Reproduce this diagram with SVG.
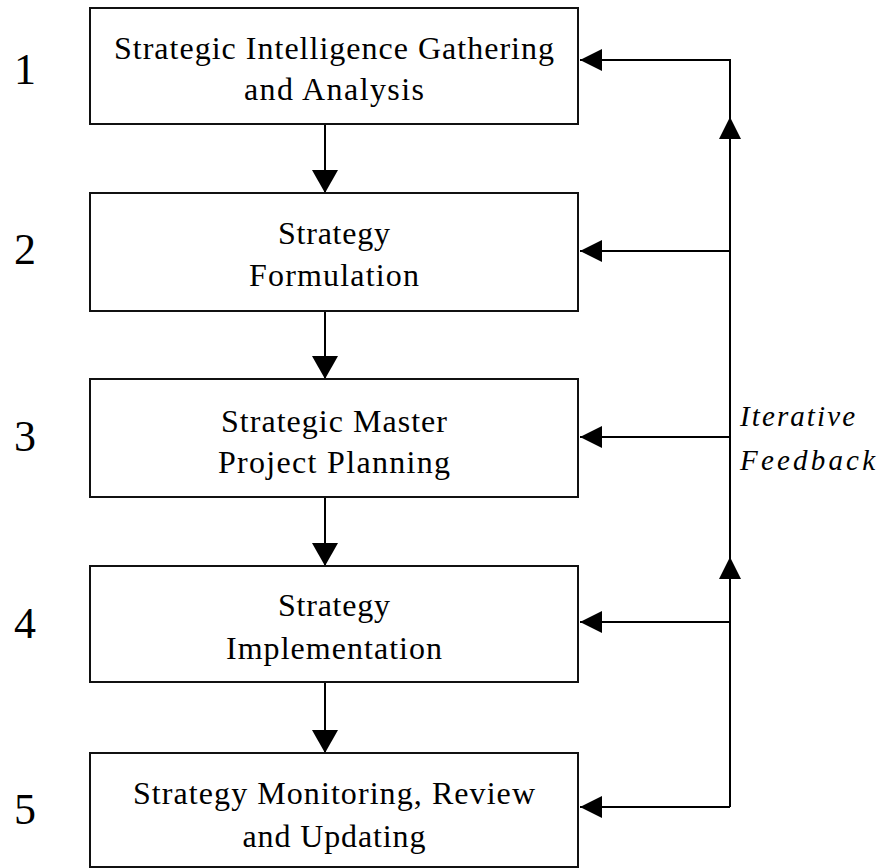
<svg xmlns="http://www.w3.org/2000/svg" width="880" height="868" viewBox="0 0 880 868">
<style>
.box{fill:#fff;stroke:#111;stroke-width:2}
.t{font-family:"Liberation Serif","Times New Roman",serif;font-size:32px;fill:#000;text-anchor:middle}
.num{font-family:"Liberation Serif","Times New Roman",serif;font-size:44px;fill:#000;text-anchor:middle}
.fb{font-family:"Liberation Serif","Times New Roman",serif;font-style:italic;font-size:29px;fill:#000}
.c{fill:none;stroke:#000;stroke-width:2}
</style>
<defs>
<marker id="ah" markerUnits="userSpaceOnUse" markerWidth="22" markerHeight="22" refX="22" refY="11" orient="auto" viewBox="0 0 22 22">
<path d="M0,0 L22,11 L0,22 Z" fill="#000"/>
</marker>
<marker id="ahd" markerUnits="userSpaceOnUse" markerWidth="23" markerHeight="26" refX="23" refY="13" orient="auto" viewBox="0 0 23 26">
<path d="M0,0 L23,13 L0,26 Z" fill="#000"/>
</marker>
</defs>
<rect width="880" height="868" fill="#fff"/>
<g id="connectors">
<path class="c" d="M325,124 L325,193" marker-end="url(#ahd)"/>
<path class="c" d="M325,311 L325,379" marker-end="url(#ahd)"/>
<path class="c" d="M325,497 L325,566" marker-end="url(#ahd)"/>
<path class="c" d="M325,682 L325,753" marker-end="url(#ahd)"/>
<path class="c" d="M730,807 L730,557" marker-end="url(#ah)"/>
<path class="c" d="M730,557 L730,117" marker-end="url(#ah)"/>
<path class="c" d="M730,117 L730,60 L580,60" marker-end="url(#ah)"/>
<path class="c" d="M730,251 L580,251" marker-end="url(#ah)"/>
<path class="c" d="M730,437 L580,437" marker-end="url(#ah)"/>
<path class="c" d="M730,622 L580,622" marker-end="url(#ah)"/>
<path class="c" d="M730,807 L580,807" marker-end="url(#ah)"/>
</g>
<g id="node1">
<rect class="box" x="90" y="8" width="488" height="116"/>
<text class="t" x="334" y="59" textLength="440" lengthAdjust="spacing">Strategic Intelligence Gathering</text>
<text class="t" x="334" y="100" textLength="180" lengthAdjust="spacing">and Analysis</text>
</g>
<g id="node2">
<rect class="box" x="90" y="193" width="488" height="118"/>
<text class="t" x="334" y="244" textLength="112" lengthAdjust="spacing">Strategy</text>
<text class="t" x="334" y="286" textLength="170" lengthAdjust="spacing">Formulation</text>
</g>
<g id="node3">
<rect class="box" x="90" y="379" width="488" height="118"/>
<text class="t" x="334" y="432" textLength="226" lengthAdjust="spacing">Strategic Master</text>
<text class="t" x="334" y="473" textLength="232" lengthAdjust="spacing">Project Planning</text>
</g>
<g id="node4">
<rect class="box" x="90" y="566" width="488" height="116"/>
<text class="t" x="334" y="616" textLength="112" lengthAdjust="spacing">Strategy</text>
<text class="t" x="334" y="659" textLength="216" lengthAdjust="spacing">Implementation</text>
</g>
<g id="node5">
<rect class="box" x="90" y="753" width="488" height="114"/>
<text class="t" x="334" y="804" textLength="402" lengthAdjust="spacing">Strategy Monitoring, Review</text>
<text class="t" x="334" y="847" textLength="183" lengthAdjust="spacing">and Updating</text>
</g>
<g id="numbers">
<text class="num" x="25" y="84">1</text>
<text class="num" x="25" y="264">2</text>
<text class="num" x="25" y="451">3</text>
<text class="num" x="25" y="638">4</text>
<text class="num" x="25" y="824">5</text>
</g>
<g id="feedback-label">
<text class="fb" x="740" y="426" textLength="115" lengthAdjust="spacing">Iterative</text>
<text class="fb" x="740" y="470" textLength="135" lengthAdjust="spacing">Feedback</text>
</g>
</svg>
